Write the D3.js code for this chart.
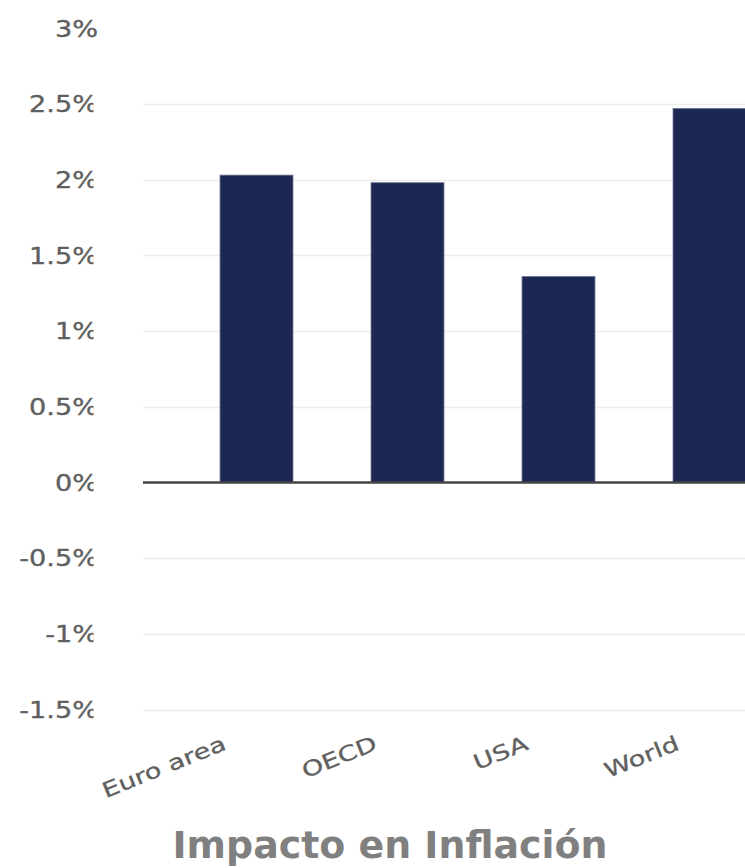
<!DOCTYPE html>
<html>
<head>
<meta charset="utf-8">
<script src="https://cdn.jsdelivr.net/npm/d3@7"></script>
<style>
  body { margin: 0; background: #fff; }
  text { font-family: "DejaVu Sans", Verdana, sans-serif; }
</style>
</head>
<body>
<svg id="chart"></svg>
<script>
const width = 745;
const height = 868;

// values (percent)
const categories = ["Euro area", "OECD", "USA", "World"];
const impact = [2.03, 1.98, 1.36, 2.47];
const yTicks = [-1.5, -1, -0.5, 0, 0.5, 1, 1.5, 2, 2.5, 3];
const title = "Impacto en Inflación";

// text in the picture is a bit stretched sideways
const tickStretch = 1.18;
const labelStretch = 1.3;

const svg = d3.select("#chart").attr("width", width).attr("height", height);

// y scale: 0.5% is about 75.7px tall
const y = d3.scaleLinear().domain([-1.5, 3]).range([709.5, 28.3]);

// bands run past the right edge, the picture is cut there
const x = d3.scaleBand()
  .domain(categories)
  .range([181, 785])
  .paddingInner(0.517)
  .paddingOuter(0.2585);

const plotLeft = 143;

// gridlines
svg.append("g")
  .selectAll("line")
  .data(yTicks.filter((d) => d !== 0 && d !== 3))
  .join("line")
  .attr("x1", plotLeft)
  .attr("x2", width)
  .attr("y1", (d) => Math.round(y(d)) + 0.5)
  .attr("y2", (d) => Math.round(y(d)) + 0.5)
  .attr("stroke", "#ececec")
  .attr("stroke-width", 1.5);

// tick labels, the wide ones get cut at the left column edge
const clip = svg.append("clipPath").attr("id", "tickclip");
clip.append("rect").attr("x", 0).attr("y", 0).attr("width", 110).attr("height", 50);
clip.append("rect").attr("x", 0).attr("y", 50).attr("width", 93.5).attr("height", 760);

svg.append("g")
  .attr("clip-path", "url(#tickclip)")
  .selectAll("text")
  .data(yTicks)
  .join("text")
  .attr("transform", (d) => `translate(98,${y(d)}) scale(${tickStretch},1)`)
  .attr("dy", "0.36em")
  .attr("text-anchor", "end")
  .attr("font-size", 23)
  .attr("fill", "#5f5f5f")
  .attr("stroke", "#5f5f5f")
  .attr("stroke-width", 0.35)
  .text((d) => d + "%");

// bars
svg.append("g")
  .selectAll("rect")
  .data(categories)
  .join("rect")
  .attr("x", (d) => x(d))
  .attr("width", x.bandwidth())
  .attr("y", (d, i) => y(Math.max(0, impact[i])))
  .attr("height", (d, i) => Math.abs(y(impact[i]) - y(0)))
  .attr("fill", "#1c2753")
  .attr("stroke", "#6b7290")
  .attr("stroke-width", 0.8);

// zero line
svg.append("line")
  .attr("x1", plotLeft)
  .attr("x2", width)
  .attr("y1", y(0))
  .attr("y2", y(0))
  .attr("stroke", "#444")
  .attr("stroke-width", 2.5);

// category labels, stretched along their baseline
const labels = svg.append("g")
  .selectAll("text")
  .data(categories)
  .join("text")
  .attr("transform", (d) => `translate(${x(d) + x.bandwidth() / 2 - 29},749) rotate(-22)`)
  .attr("text-anchor", "end")
  .attr("font-size", 21)
  .attr("fill", "#5f5f5f")
  .attr("stroke", "#5f5f5f")
  .attr("stroke-width", 0.3)
  .text((d) => d);

labels.each(function () {
  const w = this.getComputedTextLength();
  d3.select(this)
    .attr("textLength", w * labelStretch)
    .attr("lengthAdjust", "spacingAndGlyphs");
});

// title
svg.append("text")
  .attr("x", 390)
  .attr("y", 858)
  .attr("text-anchor", "middle")
  .attr("font-size", 37)
  .attr("font-weight", "bold")
  .attr("fill", "#808080")
  .attr("textLength", 435)
  .attr("lengthAdjust", "spacingAndGlyphs")
  .text(title);
</script>
</body>
</html>
